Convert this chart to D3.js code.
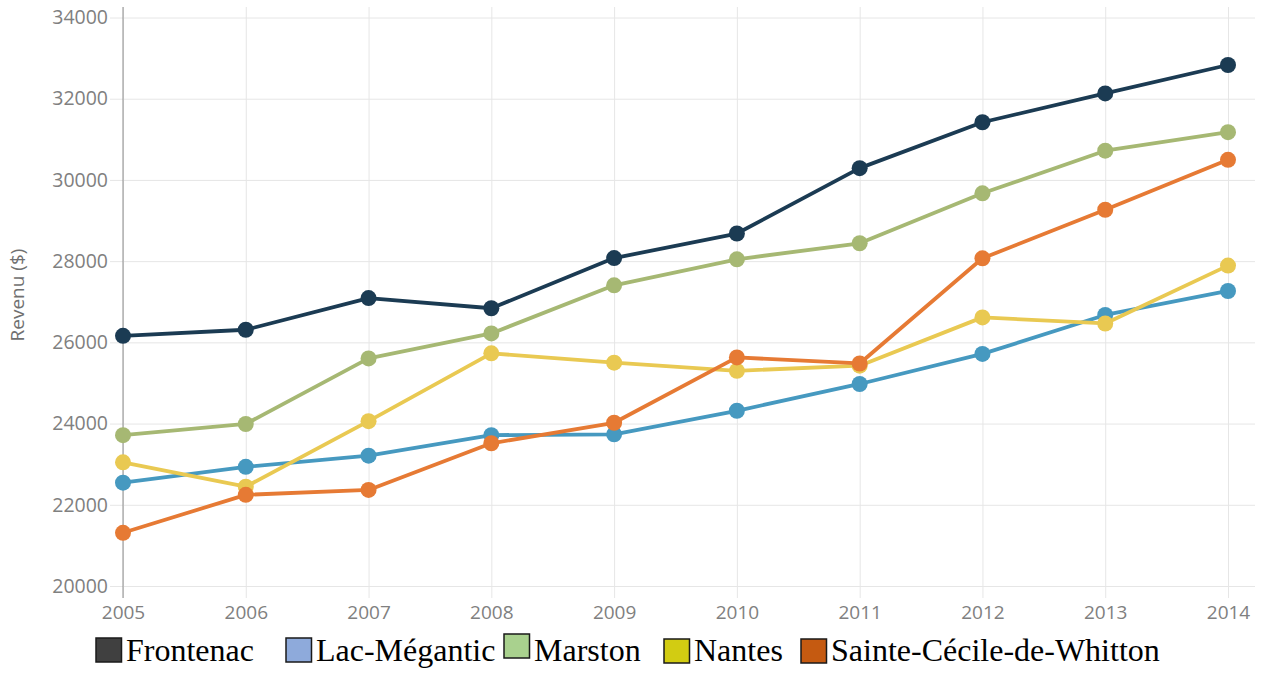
<!DOCTYPE html>
<html>
<head>
<meta charset="utf-8">
<script src="https://cdn.jsdelivr.net/npm/d3@7"></script>
<style>
  html, body { margin: 0; padding: 0; background: #fff; }
  svg { display: block; }
</style>
</head>
<body>
<svg id="chart" width="1269" height="673"></svg>
<script>
// Revenu moyen par municipalité, 2005–2014
const years = [2005, 2006, 2007, 2008, 2009, 2010, 2011, 2012, 2013, 2014];
const yTicks = [20000, 22000, 24000, 26000, 28000, 30000, 32000, 34000];

const seriesNames = ["Frontenac", "Lac-Mégantic", "Marston", "Nantes", "Sainte-Cécile-de-Whitton"];

const frontenac   = [26160, 26310, 27090, 26840, 28075, 28680, 30290, 31420, 32130, 32830];
const lacMegantic = [22545, 22935, 23210, 23715, 23735, 24315, 24975, 25715, 26675, 27265];
const marston     = [23715, 23990, 25605, 26220, 27405, 28045, 28440, 29670, 30720, 31175];
const nantes      = [23045, 22445, 24060, 25730, 25500, 25300, 25425, 26615, 26465, 27890];
const sainteCecile= [21310, 22245, 22365, 23515, 24020, 25630, 25480, 28070, 29265, 30495];

const seriesValues = [frontenac, lacMegantic, marston, nantes, sainteCecile];
const lineColors   = ["#1b3b53", "#4699c0", "#a6b873", "#e9c952", "#e67a34"];
const legendColors = ["#404040", "#8eaadb", "#a9d18e", "#d2cc12", "#c55a11"];

const svg = d3.select("#chart");

const x = d3.scaleLinear().domain([2005, 2014]).range([123, 1228]);
const y = d3.scaleLinear().domain([20000, 34000]).range([586, 17.5]);

const gridColor = "#e6e6e6";
const labelColor = "#808080";
const plotRight = 1255, plotTop = 7;

// horizontal grid lines with tick stubs
const yAxis = d3.axisLeft(y).tickValues(yTicks).tickFormat(d3.format("d"))
  .tickSize(-(plotRight - 110)).tickSizeOuter(0).tickPadding(4);
const gy = svg.append("g").attr("transform", "translate(110,0)").call(yAxis);
gy.select(".domain").remove();
gy.selectAll(".tick line").attr("stroke", gridColor).attr("stroke-width", 1);
gy.selectAll(".tick text")
  .attr("x", -2)
  .attr("fill", labelColor)
  .style("font-family", "'Open Sans', sans-serif")
  .style("font-size", "19.5px");

// vertical grid lines extending below the plot
const xAxis = d3.axisBottom(x).tickValues(years).tickFormat(d3.format("d"))
  .tickSize(-(598 - plotTop)).tickSizeOuter(0).tickPadding(8);
const gx = svg.append("g").attr("transform", "translate(0,598)").call(xAxis);
gx.select(".domain").remove();
gx.selectAll(".tick line").attr("stroke", gridColor).attr("stroke-width", 1);
gx.selectAll(".tick text")
  .attr("y", 8)
  .attr("fill", labelColor)
  .style("font-family", "'Open Sans', sans-serif")
  .style("font-size", "19px");

// left axis line
svg.append("line")
  .attr("x1", x(2005)).attr("x2", x(2005))
  .attr("y1", plotTop).attr("y2", 598)
  .attr("stroke", "#8c8c8c").attr("stroke-width", 1);

// y axis title
svg.append("text")
  .attr("transform", "translate(24,295) rotate(-90)")
  .attr("text-anchor", "middle")
  .attr("fill", "#707070")
  .style("font-family", "'Open Sans', sans-serif")
  .style("font-size", "19px")
  .text("Revenu ($)");

// lines and markers
const line = d3.line().x((d, i) => x(years[i])).y(d => y(d));

seriesValues.forEach((vals, s) => {
  const g = svg.append("g");
  g.append("path")
    .datum(vals)
    .attr("d", line)
    .attr("fill", "none")
    .attr("stroke", lineColors[s])
    .attr("stroke-width", 3.8)
    .attr("stroke-linejoin", "round");
  g.selectAll("circle")
    .data(vals)
    .join("circle")
    .attr("cx", (d, i) => x(years[i]))
    .attr("cy", d => y(d))
    .attr("r", 8)
    .attr("fill", lineColors[s]);
});

// legend
const legendX = [95, 285, 503, 663, 800];
const legendY = [637, 637, 633, 638, 638];
const legend = svg.append("g");
seriesNames.forEach((name, i) => {
  legend.append("rect")
    .attr("x", legendX[i] + 1).attr("y", legendY[i] + 1)
    .attr("width", 25.5).attr("height", 24)
    .attr("fill", legendColors[i])
    .attr("stroke", "#1a1a1a").attr("stroke-width", 1.5);
  legend.append("text")
    .attr("x", legendX[i] + 31)
    .attr("y", 661)
    .attr("fill", "#000")
    .style("font-family", "'Liberation Serif', 'Times New Roman', serif")
    .style("font-size", "32px")
    .text(name);
});
</script>
</body>
</html>
